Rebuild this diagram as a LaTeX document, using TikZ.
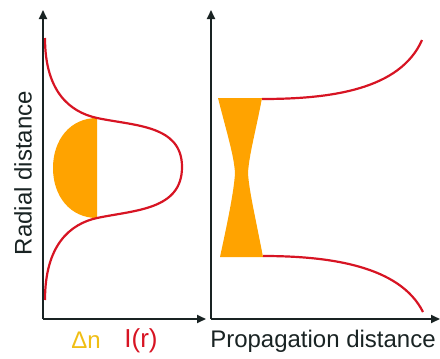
\documentclass[tikz,border=0pt]{standalone}
\usepackage{fontspec}
\setmainfont{Liberation Sans}
\usepackage{tikz}
\usetikzlibrary{arrows.meta}
\definecolor{beamred}{RGB}{215,20,35}
\definecolor{indexorange}{RGB}{255,163,0}
\definecolor{deltayellow}{RGB}{240,190,20}
\definecolor{axisgray}{RGB}{25,35,35}

\begin{document}
\begin{tikzpicture}[
  x=1pt,y=-1pt,
  axisline/.style={line width=2pt,draw=axisgray},
  beam/.style={line width=2.2pt,draw=beamred},
  lens/.style={fill=indexorange,draw=none},
  lbl/.style={font=\fontsize{24}{28}\selectfont,text=axisgray,inner sep=0pt}
]
\useasboundingbox (0,0) rectangle (440,359);

% left panel: intensity profile and index change
\fill[lens] (97,118) .. controls (70,118) and (53,140) .. (53,168)
  .. controls (53,196) and (70,218) .. (97,218) -- cycle;
\draw[beam] (45,38) .. controls (45,92) and (70,112) .. (97,118)
  .. controls (135,126) and (182,125) .. (182,167)
  .. controls (182,210) and (135,210) .. (97,218)
  .. controls (70,224) and (45,245) .. (45,300);
\draw[axisline,-{Triangle[length=9pt,width=8pt]}] (43,319) -- (43,10);
\draw[axisline,-{Triangle[length=9pt,width=8pt]}] (43,319) -- (206,319);

% right panel: self-focusing along propagation
\fill[lens] (218,98) -- (262,98)
  .. controls (256,130) and (249,155) .. (248,173)
  .. controls (249,191) and (256,220) .. (263,257) -- (220,257)
  .. controls (228,220) and (234,191) .. (235,173)
  .. controls (234,155) and (226,130) .. cycle;
\draw[beam] (262,99) .. controls (330,99) and (400,90) .. (422,40);
\draw[beam] (263,256) .. controls (330,256) and (400,266) .. (423,312);
\draw[axisline,-{Triangle[length=9pt,width=8pt]}] (211,319) -- (211,10);
\draw[axisline,-{Triangle[length=9pt,width=8pt]}] (211,319) -- (440,319);

% labels
\node[lbl,rotate=90] (radial) at (23,173) {Radial distance};
\node[lbl,text=deltayellow] (dn) at (86,340) {Δn};
\node[lbl,text=beamred,font=\fontsize{26}{30}\selectfont] (ir) at (141,341) {I(r)};
\node[lbl] (prop) at (323,341) {Propagation distance};
\end{tikzpicture}
\end{document}
